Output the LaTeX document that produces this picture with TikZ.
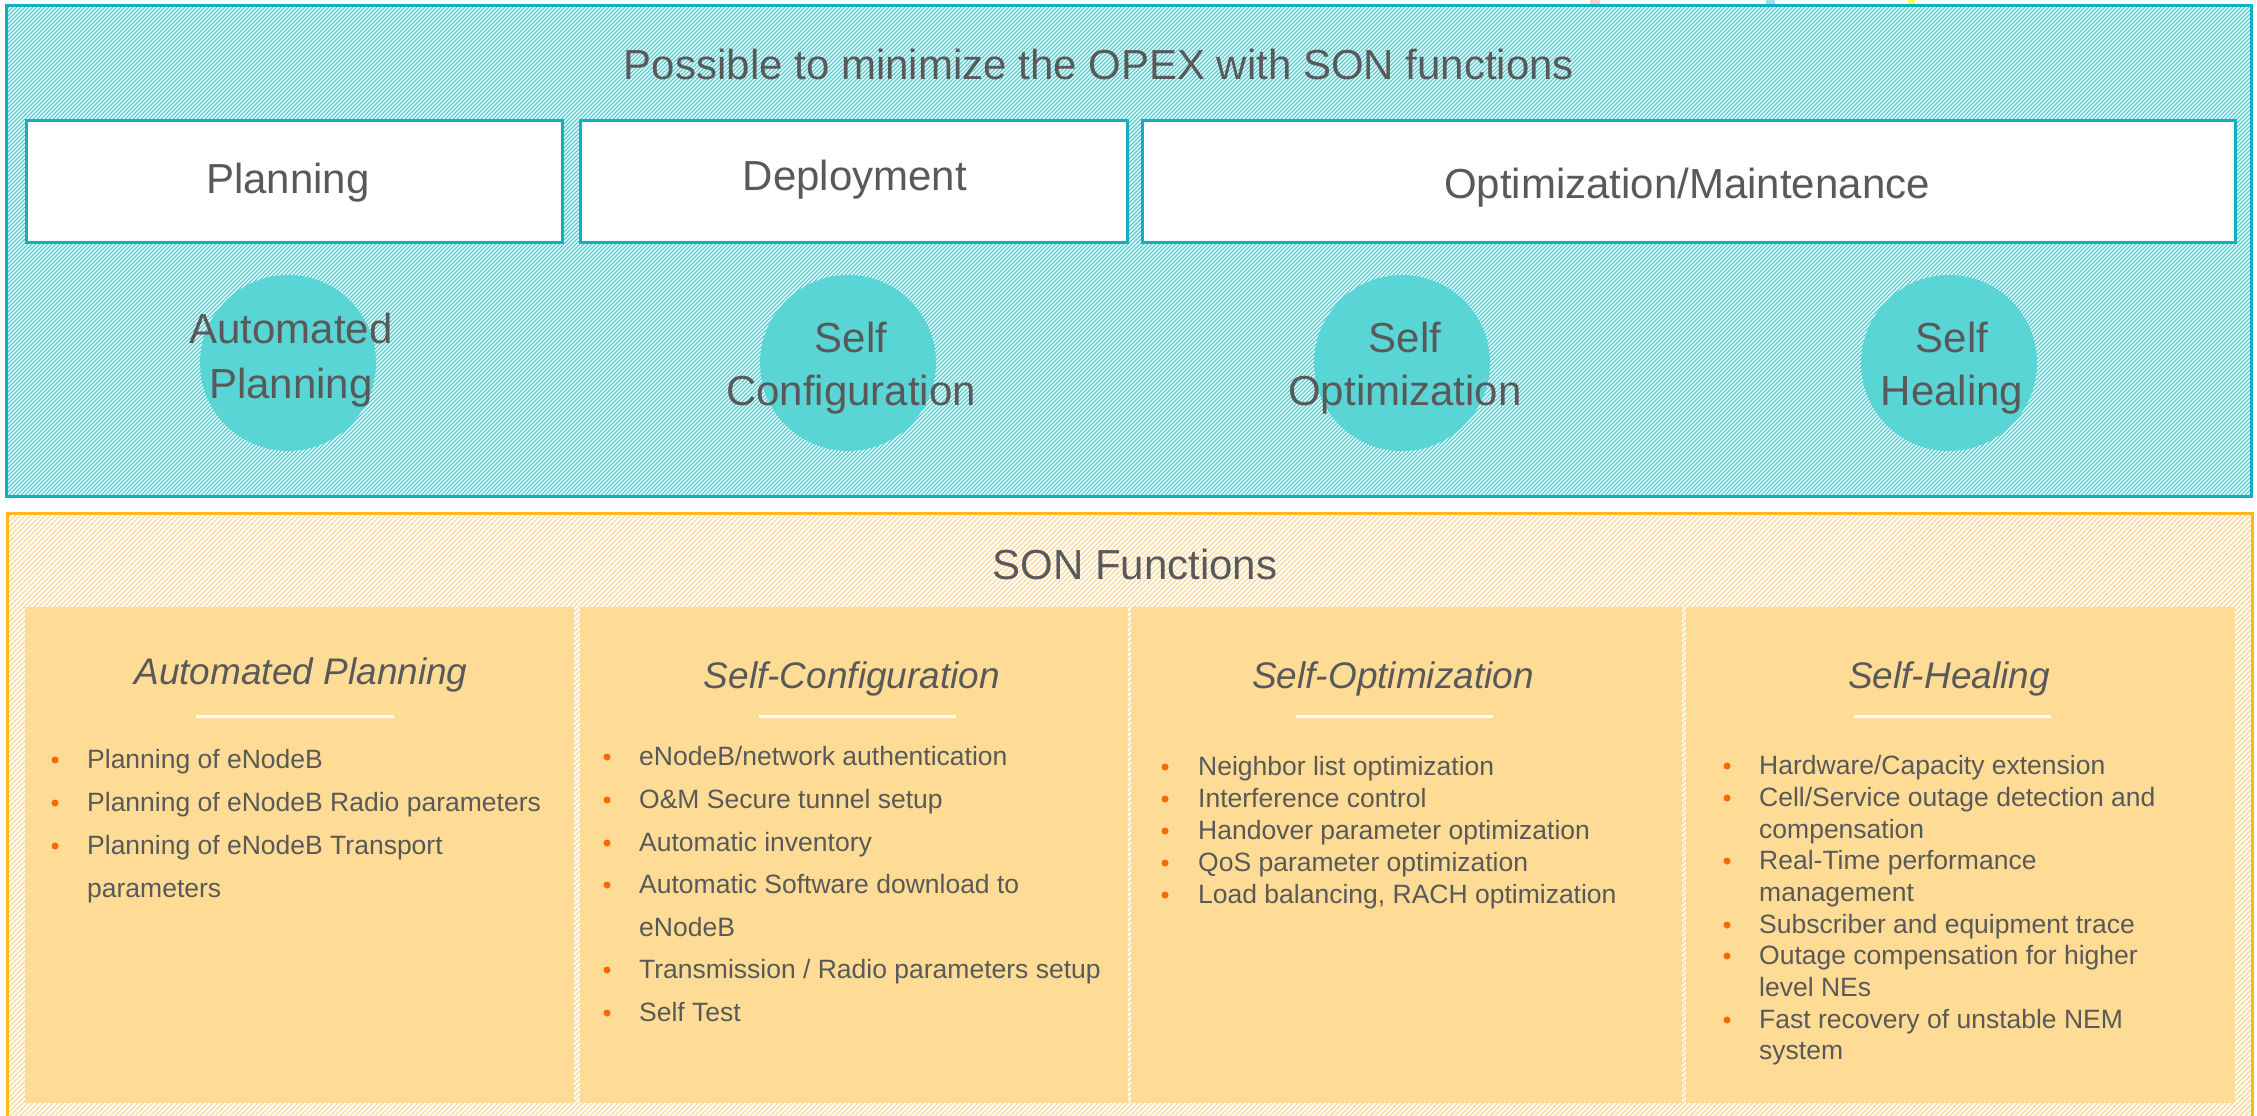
\documentclass[tikz,border=0pt]{standalone}
\usepackage{fontspec}
\setmainfont{Liberation Sans}
\usetikzlibrary{patterns.meta}
\definecolor{tealb}{RGB}{20,174,190}
\definecolor{hatcht}{RGB}{72,204,208}
\definecolor{circc}{RGB}{90,213,213}
\definecolor{orangeb}{RGB}{255,184,28}
\definecolor{hatcho}{RGB}{253,215,150}
\definecolor{panelc}{RGB}{254,220,150}
\definecolor{bulc}{RGB}{255,102,0}
\definecolor{tgray}{RGB}{89,89,89}
\tikzset{
  big/.style={font=\fontsize{42}{50}\selectfont, text=tgray, inner sep=0, anchor=base},
  head/.style={font=\fontsize{37}{44}\selectfont\itshape, text=tgray, inner sep=0, anchor=base},
  btxt/.style={font=\fontsize{26.5}{32}\selectfont, text=tgray, inner sep=0, anchor=base west},
  dot/.style={circle, fill=bulc, inner sep=0, minimum size=7},
  phase/.style={draw=tealb, line width=3, fill=white, anchor=north west, inner sep=0},
  sonc/.style={circle, fill=circc, inner sep=0, minimum size=176},
  panel/.style={fill=panelc, anchor=north west, inner sep=0, minimum height=496},
  uline/.style={draw=white, line width=3},
}
\newcommand\sonbul[5]{\node[dot] (#1d) at (#2,#4-8) {}; \node[btxt] (#1) at (#3,#4) {#5};}
\begin{document}
\begin{tikzpicture}[x=1pt,y=-1pt]
\useasboundingbox (0,0) rectangle (2257,1116);
\fill[white] (0,0) rectangle (2257,1116);
% tiny cut-off marks at the top edge
\fill[red!20!white] (1590,0) rectangle (1600,5);
\fill[hatcht!55!white] (1766,0) rectangle (1775,6);
\fill[yellow!60!white] (1908,0) rectangle (1915,6);
% ---------- top (teal) area ----------
\fill[pattern={Lines[angle=45,distance=2.8284pt,line width=1.2pt]}, pattern color=hatcht] (6,6) rectangle (2251,496);
\draw[tealb, line width=3] (6,6) rectangle (2251,496);
\node[big] (title) at (1099,79) {Possible to minimize the OPEX with SON functions};
\node[phase, minimum width=536, minimum height=122] (planbox) at (25,119) {};
\node[phase, minimum width=547, minimum height=122] (deplbox) at (579,119) {};
\node[phase, minimum width=1093, minimum height=122] (optbox) at (1141,119) {};
\node[big] (plantxt) at (288,193) {Planning};
\node[big] (depltxt) at (855,190) {Deployment};
\node[big] (opttxt) at (1687,198) {Optimization/Maintenance};
\node[sonc] (apc) at (288,363) {};
\node[sonc] (scc) at (848,363) {};
\node[sonc] (soc) at (1402,363) {};
\node[sonc] (shc) at (1949,363) {};
\node[big] (apc1) at (291,343) {Automated};
\node[big] (apc2) at (291,398) {Planning};
\node[big] (scc1) at (851,352) {Self};
\node[big] (scc2) at (851,405) {Configuration};
\node[big] (soc1) at (1405,352) {Self};
\node[big] (soc2) at (1405,405) {Optimization};
\node[big] (shc1) at (1952,352) {Self};
\node[big] (shc2) at (1952,405) {Healing};
% ---------- bottom (orange) area ----------
\fill[pattern={Lines[angle=45,distance=3.5355pt,line width=1.4pt]}, pattern color=hatcho] (7,513) rectangle (2252,1120);
\draw[orangeb, line width=3] (7,513) rectangle (2252,1120);
\node[big] (sontitle) at (1135,579) {SON Functions};
\node[panel, minimum width=549] (app) at (25,607) {};
\node[panel, minimum width=548] (scp) at (580,607) {};
\node[panel, minimum width=551] (sop) at (1131,607) {};
\node[panel, minimum width=549] (shp) at (1686,607) {};
\node[head] (aph) at (301,684) {Automated Planning};
\node[head] (sch) at (852,688) {Self-Configuration};
\node[head] (soh) at (1393,688) {Self-Optimization};
\node[head] (shh) at (1949,688) {Self-Healing};
\coordinate (apu1) at (196,716); \coordinate (apu2) at (394,716);
\coordinate (scu1) at (759,716); \coordinate (scu2) at (956,716);
\coordinate (sou1) at (1296,716); \coordinate (sou2) at (1493,716);
\coordinate (shu1) at (1854,716); \coordinate (shu2) at (2051,716);
\draw[uline] (apu1) -- (apu2);
\draw[uline] (scu1) -- (scu2);
\draw[uline] (sou1) -- (sou2);
\draw[uline] (shu1) -- (shu2);
% Automated Planning
\sonbul{ap1}{55}{87}{768}{Planning of eNodeB}
\sonbul{ap2}{55}{87}{811}{Planning of eNodeB Radio parameters}
\sonbul{ap3}{55}{87}{854}{Planning of eNodeB Transport}
\node[btxt] (ap3b) at (87,897) {parameters};
% Self-Configuration
\sonbul{sc1}{607}{639}{765}{eNodeB/network authentication}
\sonbul{sc2}{607}{639}{808}{O\&M Secure tunnel setup}
\sonbul{sc3}{607}{639}{851}{Automatic inventory}
\sonbul{sc4}{607}{639}{893}{Automatic Software download to}
\node[btxt] (sc4b) at (639,936) {eNodeB};
\sonbul{sc5}{607}{639}{978}{Transmission / Radio parameters setup}
\sonbul{sc6}{607}{639}{1021}{Self Test}
% Self-Optimization
\sonbul{so1}{1165}{1198}{775}{Neighbor list optimization}
\sonbul{so2}{1165}{1198}{807}{Interference control}
\sonbul{so3}{1165}{1198}{839}{Handover parameter optimization}
\sonbul{so4}{1165}{1198}{871}{QoS parameter optimization}
\sonbul{so5}{1165}{1198}{903}{Load balancing, RACH optimization}
% Self-Healing
\sonbul{sh1}{1727}{1759}{774}{Hardware/Capacity extension}
\sonbul{sh2}{1727}{1759}{806}{Cell/Service outage detection and}
\node[btxt] (sh2b) at (1759,838) {compensation};
\sonbul{sh3}{1727}{1759}{869}{Real-Time performance}
\node[btxt] (sh3b) at (1759,901) {management};
\sonbul{sh4}{1727}{1759}{933}{Subscriber and equipment trace}
\sonbul{sh5}{1727}{1759}{964}{Outage compensation for higher}
\node[btxt] (sh5b) at (1759,996) {level NEs};
\sonbul{sh6}{1727}{1759}{1028}{Fast recovery of unstable NEM}
\node[btxt] (sh6b) at (1759,1059) {system};
\end{tikzpicture}
\end{document}
